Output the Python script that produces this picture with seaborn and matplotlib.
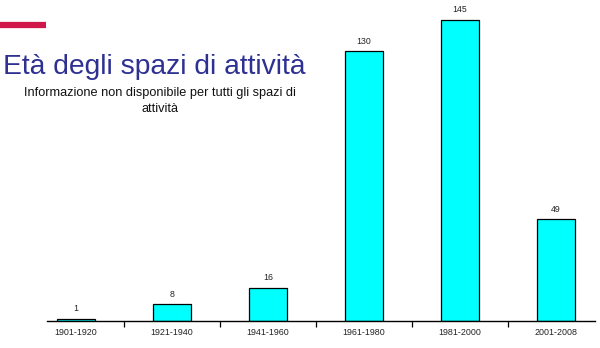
import matplotlib
matplotlib.use("Agg")
import matplotlib.pyplot as plt
import seaborn as sns
import pandas as pd
from matplotlib.lines import Line2D

# Periods of construction and number of activity spaces in each
periods = ["1901-1920", "1921-1940", "1941-1960", "1961-1980", "1981-2000", "2001-2008"]
counts = [1, 8, 16, 130, 145, 49]

df = pd.DataFrame({"periodo": periods, "spazi": counts})

sns.set_theme(style="white")
plt.rcParams["font.family"] = ["Liberation Sans", "DejaVu Sans"]

fig = plt.figure(figsize=(6.0, 3.48), dpi=100)
ax = fig.add_axes([47 / 600, 27 / 348, 548 / 600, 316 / 348])

sns.barplot(data=df, x="periodo", y="spazi", color="#00FFFF", saturation=1,
            edgecolor="black", linewidth=0.9, width=0.40, ax=ax)

# value labels above each bar
for i, v in enumerate(counts):
    ax.annotate(str(v), (i, v), xytext=(0, 4), textcoords="offset points",
                ha="center", va="bottom", fontsize=6.3, color="#222222",
                clip_on=False)

ax.set_xlim(-0.302, 5.406)
ax.set_ylim(0, 316 / 2.076)
ax.set_xlabel("")
ax.set_ylabel("")
ax.set_yticks([])
for side in ("left", "right", "top"):
    ax.spines[side].set_visible(False)
ax.spines["bottom"].set_color("black")
ax.spines["bottom"].set_linewidth(1.0)

ax.tick_params(axis="x", which="major", length=0, labelsize=6.4, pad=5,
               labelcolor="#222222")
ax.set_xticks([i + 0.5 for i in range(len(periods) - 1)], minor=True)
ax.tick_params(axis="x", which="minor", bottom=True, length=4, width=0.9,
               color="black", direction="out")

# header decoration and titles
fig.add_artist(Line2D([0, 46 / 600], [1 - 24.5 / 348, 1 - 24.5 / 348],
                      transform=fig.transFigure, color="#D0174A", linewidth=4.5,
                      solid_capstyle="butt"))
fig.text(3 / 600, 1 - 74 / 348, "Età degli spazi di attività", fontsize=20.3,
         color="#2E3192", ha="left", va="baseline")
subtitle_lines = ["Informazione non disponibile per tutti gli spazi di", "attività"]
for k, line in enumerate(subtitle_lines):
    fig.text(160 / 600, 1 - (96 + 16 * k) / 348, line,
             fontsize=9.2, color="#111111", ha="center", va="baseline")

fig.savefig("out.png", dpi=100)
